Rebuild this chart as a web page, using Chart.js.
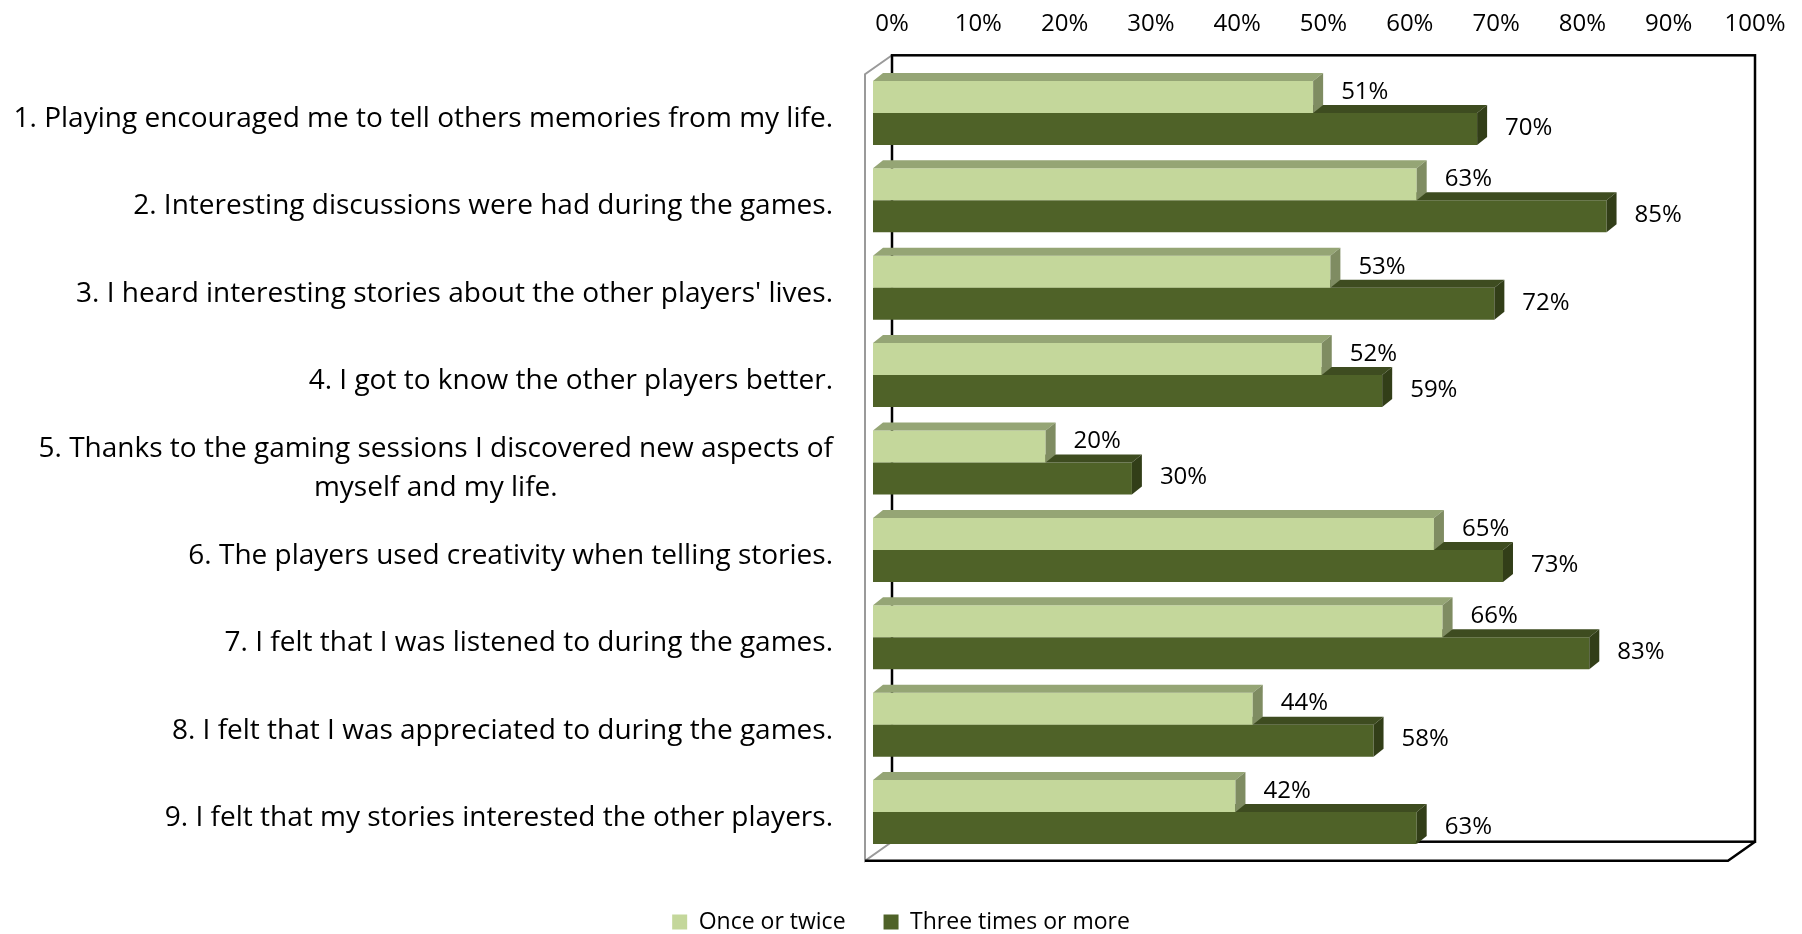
<!DOCTYPE html>
<html>
<head>
<meta charset="utf-8">
<script src="https://cdn.jsdelivr.net/npm/chart.js@4.4.1/dist/chart.umd.min.js"></script>
<style>
  html, body { margin: 0; padding: 0; background: #fff; }
  canvas { display: block; }
</style>
</head>
<body>
<canvas id="gameSurvey" width="1802" height="934"></canvas>
<script>
const categories = [
  '1. Playing encouraged me to tell others memories from my life.',
  '2. Interesting discussions were had during the games.',
  "3. I heard interesting stories about the other players' lives.",
  '4. I got to know the other players better.',
  ['5. Thanks to the gaming sessions I discovered new aspects of', 'myself and my life.'],
  '6. The players used creativity when telling stories.',
  '7. I felt that I was listened to during the games.',
  '8. I felt that I was appreciated to during the games.',
  '9. I felt that my stories interested the other players.'
];

const onceOrTwice = [51, 63, 53, 52, 20, 65, 66, 44, 42];
const threeOrMore = [70, 85, 72, 59, 30, 73, 83, 58, 63];

const seriesNames = ['Once or twice', 'Three times or more'];
const tickStep = 10;

const FONT = '"Open Sans", "Noto Sans", sans-serif';

// front / top / side colours of each series
const frontColors = ['#c4d79b', '#4f6228'];
const topColors = ['#95a575', '#3e4c20'];
const sideColors = ['#7f8c62', '#323e18'];

// bar depth
const DX = 10;
const DY = 8;

// floor and walls of the 3d box
const boxFrame = {
  id: 'boxFrame',
  beforeDatasetsDraw(chart) {
    const {ctx, chartArea: a} = chart;
    const back = {l: a.left + 19, r: a.right + 19, t: a.top - 14, b: a.bottom - 14};
    const front = {l: a.left - 8, r: a.right - 8, t: a.top + 5, b: a.bottom + 5};
    ctx.save();
    ctx.lineJoin = 'miter';

    // left wall
    ctx.strokeStyle = '#9a9a9a';
    ctx.lineWidth = 2;
    ctx.beginPath();
    ctx.moveTo(back.l, back.t);
    ctx.lineTo(front.l, front.t);
    ctx.lineTo(front.l, front.b);
    ctx.lineTo(back.l, back.b);
    ctx.stroke();

    // back wall
    ctx.strokeStyle = '#000';
    ctx.lineWidth = 2.5;
    ctx.strokeRect(back.l, back.t, back.r - back.l, back.b - back.t);

    // floor
    ctx.beginPath();
    ctx.moveTo(front.l, front.b);
    ctx.lineTo(front.r, front.b);
    ctx.lineTo(back.r, back.b);
    ctx.stroke();
    ctx.restore();
  }
};

// top and side faces for each bar
const bar3d = {
  id: 'bar3d',
  afterDatasetDraw(chart, args) {
    const ctx = chart.ctx;
    const i = args.index;
    ctx.save();
    args.meta.data.forEach(bar => {
      const {x, y, base, height} = bar.getProps(['x', 'y', 'base', 'height'], true);
      const top = y - height / 2;
      const bottom = y + height / 2;

      ctx.fillStyle = topColors[i];
      ctx.beginPath();
      ctx.moveTo(base, top);
      ctx.lineTo(x, top);
      ctx.lineTo(x + DX, top - DY);
      ctx.lineTo(base + DX, top - DY);
      ctx.closePath();
      ctx.fill();

      ctx.fillStyle = sideColors[i];
      ctx.beginPath();
      ctx.moveTo(x, top);
      ctx.lineTo(x + DX, top - DY);
      ctx.lineTo(x + DX, bottom - DY);
      ctx.lineTo(x, bottom);
      ctx.closePath();
      ctx.fill();
    });
    ctx.restore();
  }
};

// value labels to the right of the bars
const valueLabels = {
  id: 'valueLabels',
  afterDatasetsDraw(chart) {
    const ctx = chart.ctx;
    ctx.save();
    ctx.font = '24px ' + FONT;
    ctx.fillStyle = '#000';
    ctx.textAlign = 'left';
    ctx.textBaseline = 'middle';
    chart.data.datasets.forEach((ds, i) => {
      const meta = chart.getDatasetMeta(i);
      meta.data.forEach((bar, j) => {
        const {x, y} = bar.getProps(['x', 'y'], true);
        ctx.fillText(ds.data[j] + '%', x + 28, y + (i === 0 ? -5 : -1));
      });
    });
    ctx.restore();
  }
};

// category labels, right aligned block, lines centred inside it
const categoryLabels = {
  id: 'categoryLabels',
  afterDraw(chart) {
    const {ctx, chartArea} = chart;
    const yScale = chart.scales.y;
    const right = chartArea.left - 40;
    ctx.save();
    ctx.font = '28px ' + FONT;
    ctx.fillStyle = '#000';
    ctx.textAlign = 'center';
    ctx.textBaseline = 'middle';
    categories.forEach((label, i) => {
      const lines = Array.isArray(label) ? label : [label];
      const widest = Math.max(...lines.map(l => ctx.measureText(l).width));
      const cy = yScale.getPixelForValue(i) + 6;
      lines.forEach((line, k) => {
        ctx.fillText(line, right - widest / 2, cy + (k - (lines.length - 1) / 2) * 39);
      });
    });
    ctx.restore();
  }
};

const data = {
  labels: categories,
  datasets: [{
    label: seriesNames[0],
    data: onceOrTwice,
    backgroundColor: frontColors[0],
    borderWidth: 0
  }, {
    label: seriesNames[1],
    data: threeOrMore,
    backgroundColor: frontColors[1],
    borderWidth: 0
  }]
};

const config = {
  type: 'bar',
  data: data,
  plugins: [boxFrame, bar3d, valueLabels, categoryLabels],
  options: {
    indexAxis: 'y',
    responsive: false,
    animation: false,
    categoryPercentage: 0.7325,
    barPercentage: 1,
    layout: {
      padding: {left: 0, right: 0, top: 0, bottom: -9.5}
    },
    scales: {
      x: {
        position: 'top',
        min: 0,
        max: 100,
        grid: {display: false, drawTicks: false},
        border: {display: false},
        ticks: {
          stepSize: tickStep,
          padding: 31,
          labelOffset: 19,
          color: '#000',
          font: {family: FONT, size: 24},
          callback: v => v + '%'
        },
        afterFit: scale => { scale.height = 69.3; }
      },
      y: {
        position: 'left',
        grid: {display: false, drawTicks: false},
        border: {display: false},
        ticks: {display: false},
        afterFit: scale => { scale.width = 873; }
      },
      yRight: {
        type: 'category',
        position: 'right',
        grid: {display: false, drawTicks: false},
        border: {display: false},
        ticks: {display: false},
        afterFit: scale => { scale.width = 66; }
      }
    },
    plugins: {
      tooltip: {enabled: false},
      legend: {
        position: 'bottom',
        title: {
          display: true,
          text: '',
          font: {size: 10},
          padding: {top: 4.8, bottom: 0}
        },
        labels: {
          boxWidth: 15,
          boxHeight: 15,
          padding: 38,
          color: '#000',
          font: {family: FONT, size: 23}
        }
      }
    }
  }
};

new Chart(document.getElementById('gameSurvey'), config);
</script>
</body>
</html>
